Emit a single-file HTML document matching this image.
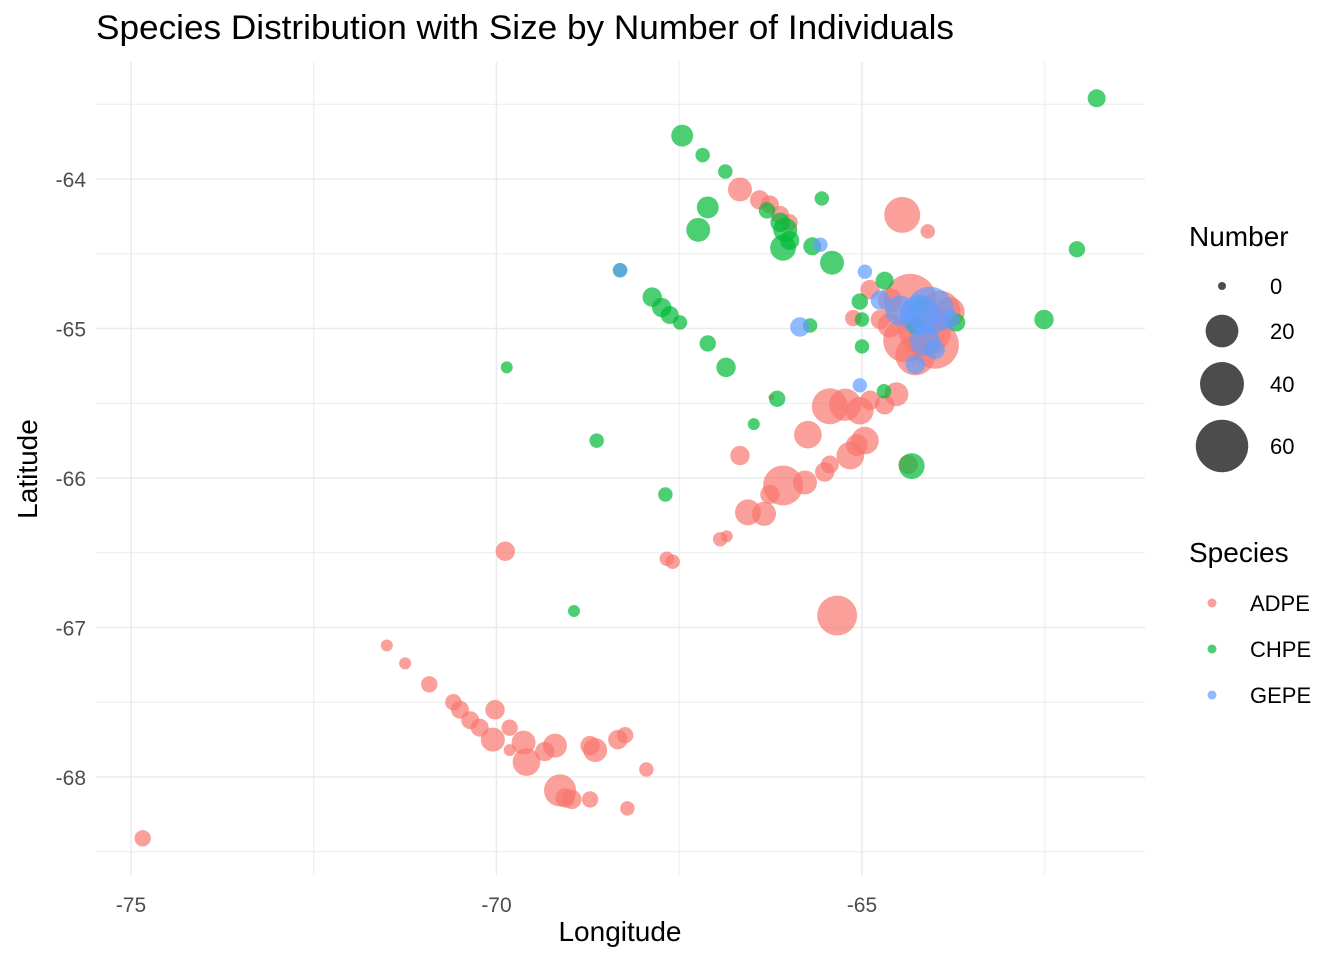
<!DOCTYPE html>
<html><head><meta charset="utf-8"><style>
body{margin:0;background:#fff;font-family:"Liberation Sans",Arial,sans-serif;}
svg text{font-family:"Liberation Sans",Arial,sans-serif;}
</style></head><body>
<svg id="chart" width="1344" height="960" xmlns="http://www.w3.org/2000/svg">
<text x="96" y="39" font-size="34" fill="#000" textLength="858" lengthAdjust="spacingAndGlyphs">Species Distribution with Size by Number of Individuals</text>
<g id="grid"></g><g id="points"></g><g id="axes"></g><g id="legend"></g>
</svg>
<script>
const species = ["ADPE","CHPE","GEPE"];
const adpeLon = [-74.84,-71.5,-71.25,-70.92,-70.59,-70.5,-70.36,-70.23,-70.02,-70.05,-69.82,-69.82,-69.63,-69.59,-69.34,-69.2,-69.13,-69.06,-68.97,-68.72,-68.65,-68.72,-68.34,-68.24,-67.95,-68.21,-69.88,-67.67,-67.59,-66.94,-66.85,-66.67,-66.56,-66.34,-66.26,-66.08,-65.78,-65.51,-65.44,-65.16,-65.07,-64.96,-65.44,-65.23,-65.03,-64.89,-65.74,-65.34,-64.53,-64.69,-64.45,-64.1,-66.67,-66.4,-66.26,-66.12,-65.99,-66.24,-64.89,-64.75,-64.62,-64.34,-64.14,-64.0,-64.27,-63.93,-63.8,-64.62,-64.41,-64.37,-65.12];
const adpeLat = [-68.41,-67.12,-67.24,-67.38,-67.5,-67.55,-67.62,-67.67,-67.55,-67.75,-67.67,-67.82,-67.77,-67.9,-67.83,-67.79,-68.09,-68.14,-68.15,-68.15,-67.82,-67.79,-67.75,-67.72,-67.95,-68.21,-66.49,-66.54,-66.56,-66.41,-66.39,-65.85,-66.23,-66.24,-66.11,-66.05,-66.03,-65.96,-65.91,-65.85,-65.78,-65.75,-65.52,-65.51,-65.55,-65.48,-65.71,-66.92,-65.44,-65.51,-64.24,-64.35,-64.07,-64.14,-64.17,-64.24,-64.29,-65.46,-64.74,-64.94,-64.98,-64.81,-65.01,-65.11,-65.18,-64.88,-64.89,-64.81,-65.08,-65.91,-64.93];
const adpeNum = [3,1,1,3,3,4,4,4,5,9,3,1,9,13,5,9,19,5,5,3,9,5,5,3,2,2,5,2,2,2,1,5,11,9,5,32,9,5,4,13,7,13,25,19,13,5,13,32,9,5,25,2,9,5,4,4,3,0,5,5,9,60,60,48,32,32,16,9,40,5,3];
const chpeLon = [-61.79,-67.46,-67.18,-66.87,-67.11,-67.24,-66.3,-66.12,-66.05,-65.99,-66.08,-65.68,-65.55,-65.41,-68.31,-67.87,-67.74,-67.63,-67.49,-67.11,-66.86,-69.86,-68.63,-67.69,-68.94,-66.16,-66.48,-65.71,-65.0,-65.0,-65.03,-64.69,-64.32,-62.51,-62.06,-64.7,-64.27,-64.21,-63.71];
const chpeLat = [-63.46,-63.71,-63.84,-63.95,-64.19,-64.34,-64.21,-64.29,-64.34,-64.41,-64.46,-64.45,-64.13,-64.56,-64.61,-64.79,-64.86,-64.91,-64.96,-65.1,-65.26,-65.26,-65.75,-66.11,-66.89,-65.47,-65.64,-64.98,-65.12,-64.94,-64.82,-64.68,-65.92,-64.94,-64.47,-65.42,-64.98,-64.84,-64.96];
const chpeNum = [4,7,2,2,7,9,3,5,9,5,11,4,2,9,2,5,5,4,2,3,5,1,2,2,1,3,1,2,2,2,3,4,11,5,3,2,4,3,4];
const gepeLon = [-68.31,-65.85,-65.57,-64.96,-65.03,-64.75,-64.48,-64.21,-64.07,-64.14,-64.0,-64.27,-63.8];
const gepeLat = [-64.61,-64.99,-64.44,-64.62,-65.38,-64.81,-64.88,-64.91,-64.88,-65.08,-65.14,-65.24,-64.94];
const gepeNum = [2,5,2,2,2,5,16,32,48,16,5,5,5];
const xTicks = [-75,-70,-65];
const yTicks = [-64,-65,-66,-67,-68];
const sizeBreaks = [0,20,40,60];
const colors = {ADPE:"#F8766D",CHPE:"#00BA38",GEPE:"#619CFF"};

const NS="http://www.w3.org/2000/svg";
const X0=96,X1=1145,Y0=62,Y1=875;
const xs=v=>131+(v+75)*73.1;
const ys=v=>179-(v+64)*149.5;
const rs=v=>3+Math.sqrt(v)*3.0;
function mk(tag,attrs,parent){const e=document.createElementNS(NS,tag);for(const k in attrs)e.setAttribute(k,attrs[k]);parent.appendChild(e);return e;}
const grid=document.getElementById('grid');
for(let v=-75;v<=-62;v+=2.5){const x=xs(v);if(x<X0||x>X1)continue;
 const l=mk('line',{x1:x,x2:x,y1:Y0,y2:Y1,stroke:'#ebebeb','stroke-width':v%5===0?1.6:0.9},grid);
 
 }
for(let v=-63.5;v>=-68.5;v-=0.5){const y=ys(v);
 const l=mk('line',{x1:X0,x2:X1,y1:y,y2:y,stroke:'#ebebeb','stroke-width':Number.isInteger(v)?1.6:0.9},grid);
 
 }
const pts=document.getElementById('points');
function draw(lon,lat,num,sp){for(let i=0;i<lon.length;i++){
 const c=mk('circle',{cx:xs(lon[i]),cy:ys(lat[i]),r:rs(num[i]),fill:colors[sp],'fill-opacity':0.7},pts);
 
 }}
draw(adpeLon,adpeLat,adpeNum,'ADPE');
draw(chpeLon,chpeLat,chpeNum,'CHPE');
draw(gepeLon,gepeLat,gepeNum,'GEPE');
const ax=document.getElementById('axes');
xTicks.forEach(v=>{const t=mk('text',{x:xs(v),y:912,'font-size':21,fill:'#4d4d4d','text-anchor':'middle'},ax);t.textContent=v;
 
 });
yTicks.forEach(v=>{const t=mk('text',{x:86,y:ys(v)+8,'font-size':21,fill:'#4d4d4d','text-anchor':'end'},ax);t.textContent=v;
 
 });
let t=mk('text',{x:620,y:941,'font-size':28,'text-anchor':'middle'},ax);t.textContent='Longitude';


t=mk('text',{x:0,y:0,'font-size':28,'text-anchor':'middle',transform:'translate(37,469) rotate(-90)'},ax);t.textContent='Latitude';


const lg=document.getElementById('legend');
t=mk('text',{x:1189,y:246,'font-size':28},lg);t.textContent='Number';


const sy=[286,331,384,446];
sizeBreaks.forEach((v,i)=>{const c=mk('circle',{cx:1222,cy:sy[i],r:rs(v)+(i?0:1),fill:'#000','fill-opacity':0.7},lg);
 
 
 const tt=mk('text',{x:1270,y:sy[i]+8,'font-size':22},lg);tt.textContent=v;
 
 });
t=mk('text',{x:1189,y:562,'font-size':28},lg);t.textContent='Species';


species.forEach((s,i)=>{const y=603+i*46;
 const c=mk('circle',{cx:1212,cy:y,r:4.5,fill:colors[s],'fill-opacity':0.7},lg);
 
 
 const tt=mk('text',{x:1250,y:y+8,'font-size':22},lg);tt.textContent=s;
 
 });
</script>
</body></html>
